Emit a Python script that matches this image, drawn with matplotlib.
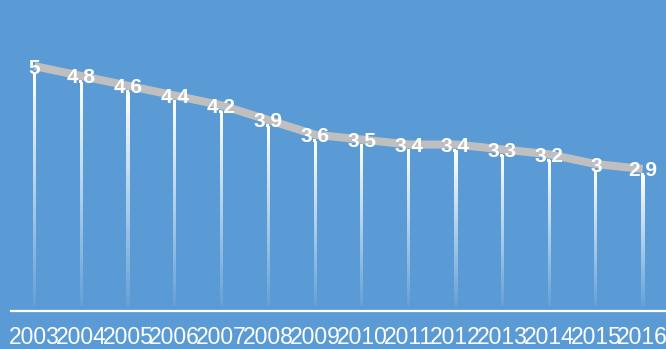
import matplotlib
matplotlib.use("Agg")
import matplotlib.pyplot as plt
import numpy as np

years = ["2003", "2004", "2005", "2006", "2007", "2008", "2009",
         "2010", "2011", "2012", "2013", "2014", "2015", "2016"]
values = [5, 4.8, 4.6, 4.4, 4.2, 3.9, 3.6, 3.5, 3.4, 3.4, 3.3, 3.2, 3, 2.9]

bg = "#5B9BD5"
plt.rcParams["font.family"] = ["Liberation Sans", "DejaVu Sans"]

W, H = 666, 349
fig = plt.figure(figsize=(W / 100, H / 100), dpi=100, facecolor=bg)
ax = fig.add_axes([11 / W, 38 / H, 1 - 11 / W, 1 - 38 / H])
ax.set_facecolor(bg)

x = np.arange(len(years))
xlim = (-0.5, len(years) - 0.5)
ylim = (0, 6.35)

# main trend line
ax.plot(x, values, color="#BFBFBF", lw=5.8, solid_capstyle="butt", zorder=2)

# drop lines: white fading out towards the axis
px_per_x = (W - 11) / (xlim[1] - xlim[0])
px_per_y = (H - 38) / (ylim[1] - ylim[0])
half_w = 1.5 / px_per_x
grad = np.zeros((100, 1, 4))
grad[..., :3] = 1.0
grad[:, 0, 3] = np.linspace(1.0, 0.06, 100)
for xi, v in zip(x, values):
    top = v - 6.5 / px_per_y
    ax.imshow(grad, extent=(xi - half_w, xi + half_w, 0.1, top),
              aspect="auto", interpolation="bilinear", zorder=3,
              origin="upper")

# value labels centred on the points
for xi, v in zip(x, values):
    ax.text(xi, v - 2 / px_per_y, f"{v:g}", color="white", fontsize=15,
            fontweight="bold", ha="center", va="center", zorder=4)

ax.set_xlim(*xlim)
ax.set_ylim(*ylim)
ax.set_xticks(x)
ax.set_xticklabels(years, color="white", fontsize=16.5)
ax.tick_params(axis="x", length=0, pad=11)
ax.set_yticks([])
for s in ["top", "right", "left"]:
    ax.spines[s].set_visible(False)
ax.spines["bottom"].set_color("white")
ax.spines["bottom"].set_linewidth(1.6)

fig.savefig("out.png", dpi=100, facecolor=bg)
